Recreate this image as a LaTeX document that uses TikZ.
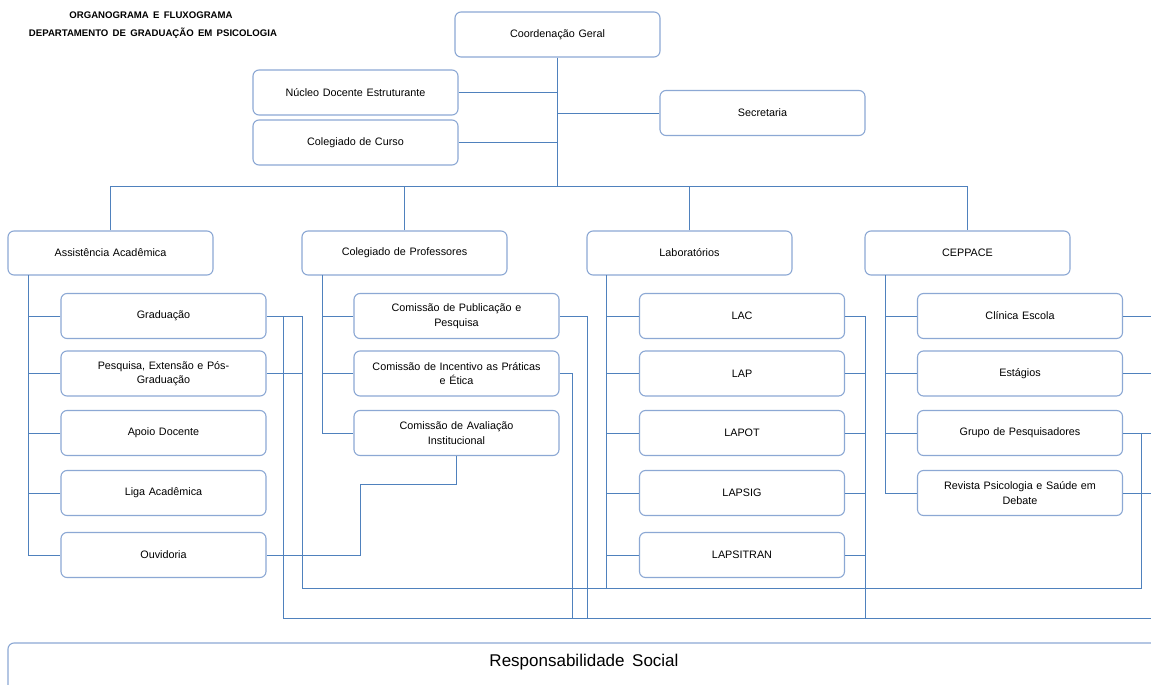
\documentclass[tikz,border=0pt]{standalone}
\usepackage{fontspec}
\setmainfont{Liberation Sans}[WordSpace=1.6]
\usetikzlibrary{calc}
\definecolor{boxline}{RGB}{140,168,212}
\definecolor{conline}{RGB}{79,129,189}
\begin{document}
\begin{tikzpicture}[x=1pt,y=-1pt,
  box/.style={draw=boxline, line width=1.1pt, rounded corners=6pt, fill=white,
    minimum width=205pt, minimum height=45pt, inner sep=2pt, align=center,
    font=\fontsize{10.8}{14.5}\selectfont, text width=192pt},
  conn/.style={draw=conline, line width=0.9pt},
  ttl/.style={font=\bfseries\fontsize{9.6}{11}\selectfont, inner sep=0pt}]
\clip (0,0) rectangle (1151,685);
\fill[white] (0,0) rectangle (1151,685);
% titles
\node[ttl] (t1) at (151,15) {ORGANOGRAMA E FLUXOGRAMA};
\node[ttl] (t2) at (153,33) {DEPARTAMENTO DE GRADUAÇÃO EM PSICOLOGIA};
% top
\node[box] (coord) at (557.5,34.5) {Coordenação Geral};
\node[box] (nde) at (355.5,92.5) {Núcleo Docente Estruturante};
\node[box] (colc) at (355.5,142.5) {Colegiado de Curso};
\node[box] (sec) at (762.5,113) {Secretaria};
% second row
\node[box, minimum height=44pt] (ass) at (110.5,253) {Assistência Acadêmica};
\node[box, minimum height=44pt] (colp) at (404.5,253) {Colegiado de Professores};
\node[box, minimum height=44pt] (lab) at (689.5,253) {Laboratórios};
\node[box, minimum height=44pt] (cep) at (967.5,253) {CEPPACE};
% column 1
\node[box] (grad) at (163.5,316) {Graduação};
\node[box] (pesq) at (163.5,373.5) {Pesquisa, Extensão e Pós-\\Graduação};
\node[box] (apoio) at (163.5,433) {Apoio Docente};
\node[box] (liga) at (163.5,493) {Liga Acadêmica};
\node[box] (ouv) at (163.5,555) {Ouvidoria};
% column 2
\node[box] (cpub) at (456.5,316) {Comissão de Publicação e\\Pesquisa};
\node[box] (cinc) at (456.5,373.5) {Comissão de Incentivo as Práticas\\e Ética};
\node[box] (cav) at (456.5,433) {Comissão de Avaliação\\Institucional};
% column 3
\node[box] (lac) at (742,316) {LAC};
\node[box] (lap) at (742,373.5) {LAP};
\node[box] (lapot) at (742,433) {LAPOT};
\node[box] (lapsig) at (742,493) {LAPSIG};
\node[box] (lapsitran) at (742,555) {LAPSITRAN};
% column 4
\node[box] (cli) at (1020,316) {Clínica Escola};
\node[box] (est) at (1020,373.5) {Estágios};
\node[box] (grp) at (1020,433) {Grupo de Pesquisadores};
\node[box] (rev) at (1020,493) {Revista Psicologia e Saúde em\\Debate};
% bottom
\node[box, minimum width=1152pt, minimum height=60pt, text width=1140pt] (resp) at (584,673) {};
\node[inner sep=0pt, font=\fontsize{17}{19}\selectfont] (resptext) at (584,662) {Responsabilidade Social};
% coordinates
\coordinate (bus) at (557.5,186);
\coordinate (s1) at (28,275);
\coordinate (s2) at (322,275);
\coordinate (s3) at (606,275);
\coordinate (s4) at (885,275);
\coordinate (a1) at (302,588);
\coordinate (a2) at (1141,588);
\coordinate (b1) at (283,618);
\coordinate (b2) at (1151,618);
\coordinate (c1) at (587,618);
\coordinate (c2) at (572,618);
\coordinate (d1) at (865,618);
\coordinate (e1) at (360,484);
% top connectors
\draw[conn] (coord.south) -- (bus);
\draw[conn] (nde.east) -- (nde.east -| coord.south);
\draw[conn] (colc.east) -- (colc.east -| coord.south);
\draw[conn] (sec.west) -- (sec.west -| coord.south);
\draw[conn] (ass.north) -- (ass.north |- bus) -- (cep.north |- bus) -- (cep.north);
\draw[conn] (colp.north) -- (colp.north |- bus);
\draw[conn] (lab.north) -- (lab.north |- bus);
% spines
\draw[conn] (s1) |- (ouv.west);
\foreach \n in {grad,pesq,apoio,liga} \draw[conn] (\n.west) -- (\n.west -| s1);
\draw[conn] (s2) |- (cav.west);
\foreach \n in {cpub,cinc} \draw[conn] (\n.west) -- (\n.west -| s2);
\draw[conn] (s3) -- (s3 |- a1);
\foreach \n in {lac,lap,lapot,lapsig,lapsitran} \draw[conn] (\n.west) -- (\n.west -| s3);
\draw[conn] (s4) |- (rev.west);
\foreach \n in {cli,est,grp} \draw[conn] (\n.west) -- (\n.west -| s4);
% flow lines
\draw[conn] (grad.east) -- (grad.east -| a1);
\draw[conn] (pesq.east) -- (pesq.east -| a1);
\draw[conn] (grad.east -| a1) -- (a1) -- (a2) -- (a2 |- grp.east) -- (grp.east);
\draw[conn] (grad.east -| b1) -- (b1) -- (b2);
\draw[conn] (cpub.east) -| (c1);
\draw[conn] (cinc.east) -| (c2);
\draw[conn] (lac.east) -| (d1);
\foreach \n in {lap,lapot,lapsig,lapsitran} \draw[conn] (\n.east) -- (\n.east -| d1);
\draw[conn] (ouv.east) -| (e1) -| (cav.south);
\foreach \n in {cli,est,grp,rev} \draw[conn] (\n.east) -- (\n.east -| b2);
\end{tikzpicture}
\end{document}
